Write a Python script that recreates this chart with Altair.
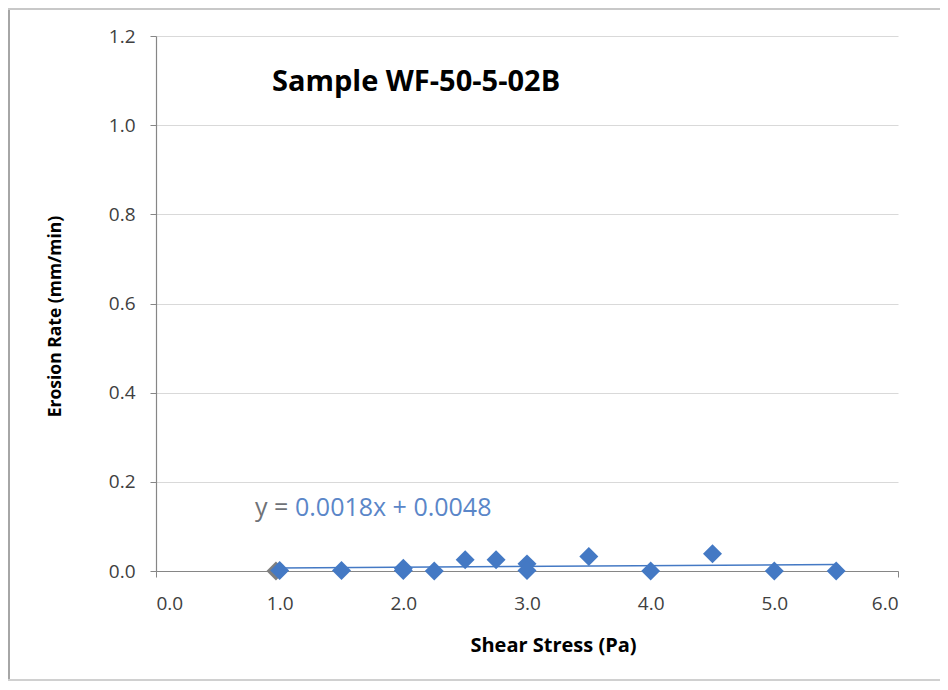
import altair as alt
import pandas as pd

# ---- data ----
shear = [1.0, 1.5, 2.0, 2.0, 2.25, 2.5, 2.75, 3.0, 3.0, 3.5, 4.0, 4.5, 5.0, 5.5]
erosion = [0.001, 0.001, 0.001, 0.006, 0.0, 0.025, 0.025, 0.016, 0.001, 0.0325, 0.0, 0.0386, 0.0, 0.0]
gray_shear = [0.97]
gray_erosion = [0.0]
trend_slope = 0.0018
trend_intercept = 0.0048
trend_x = [1.0, 5.5]
x_ticks = [0.0, 1.0, 2.0, 3.0, 4.0, 5.0, 6.0]
y_ticks = [0.0, 0.2, 0.4, 0.6, 0.8, 1.0, 1.2]
title_text = "Sample WF-50-5-02B"
x_title = "Shear Stress (Pa)"
y_title = "Erosion Rate (mm/min)"

W, H = 742, 535
PAD_L, PAD_T, PAD_R, PAD_B = 148, 28, 42, 111

pts = pd.DataFrame({"x": shear, "y": erosion})
gray = pd.DataFrame({"x": gray_shear, "y": gray_erosion})
trend = pd.DataFrame({"x": trend_x, "y": [trend_slope * v + trend_intercept for v in trend_x]})
one = pd.DataFrame({"a": [0]})

BLUE = "#4479c4"
FONT = "Open Sans"

xs = alt.Scale(domain=[0, 6], nice=False, zero=False)
ys = alt.Scale(domain=[0, 1.2], nice=False)

x_axis = alt.Axis(values=x_ticks, format=".1f", grid=False, title=x_title,
                  titleX=397, titleY=74, titleBaseline="middle", titleAlign="center",
                  titleFontSize=20, labelPadding=17, tickSize=6)
y_axis = alt.Axis(values=y_ticks, format=".1f", grid=True, title=y_title,
                  titleX=-101, titleY=280, titleAngle=270, titleBaseline="middle",
                  titleAlign="center", titleFontSize=17.5, labelPadding=15, tickSize=6)

gray_pts = alt.Chart(gray).mark_point(shape="diamond", filled=True, size=360, color="#7f7f7f", opacity=1).encode(
    x=alt.X("x:Q", scale=xs, axis=x_axis),
    y=alt.Y("y:Q", scale=ys, axis=y_axis),
)

trend_line = alt.Chart(trend).mark_line(color=BLUE, strokeWidth=1.5).encode(
    x=alt.X("x:Q", scale=xs),
    y=alt.Y("y:Q", scale=ys),
)

blue_pts = alt.Chart(pts).mark_point(shape="diamond", filled=True, size=360, color=BLUE, opacity=1).encode(
    x=alt.X("x:Q", scale=xs),
    y=alt.Y("y:Q", scale=ys),
)

title = alt.Chart(one).mark_text(text=title_text, font=FONT, fontSize=29, fontWeight="bold",
                                 align="left", baseline="middle", color="#000000").encode(
    x=alt.value(116), y=alt.value(46))

eq_y = alt.Chart(one).mark_text(text="y =", font=FONT, fontSize=25, align="left",
                                baseline="middle", color="#6f7277").encode(
    x=alt.value(99), y=alt.value(472))

eq_rest = alt.Chart(one).mark_text(text=f"{trend_slope}x + {trend_intercept}", font=FONT, fontSize=25,
                                   align="left", baseline="middle", color="#5a86c8").encode(
    x=alt.value(139), y=alt.value(472))

frame_left = alt.Chart(one).mark_rule(color="#a6a6a6", strokeWidth=2).encode(
    x=alt.value(-147), y=alt.value(-28), y2=alt.value(H + PAD_B - 1))
frame_top = alt.Chart(one).mark_rule(color="#c8c8c8", strokeWidth=2).encode(
    x=alt.value(-148), x2=alt.value(W + PAD_R), y=alt.value(-27))
frame_bottom = alt.Chart(one).mark_rule(color="#d0d0d0", strokeWidth=2).encode(
    x=alt.value(-148), x2=alt.value(W + PAD_R), y=alt.value(H + PAD_B - 2))

chart = alt.layer(
    gray_pts, trend_line, blue_pts, title, eq_y, eq_rest, frame_left, frame_top, frame_bottom
).properties(
    width=W, height=H,
    autosize=alt.AutoSizeParams(type="none"),
    padding={"left": PAD_L, "top": PAD_T, "right": PAD_R, "bottom": PAD_B},
    background="white",
).configure_view(stroke=None).configure_axis(
    labelFont=FONT, labelFontSize=19, labelColor="#404040",
    titleFont=FONT, titleFontWeight="bold", titleColor="#000000",
    domainColor="#868686", tickColor="#868686", gridColor="#d9d9d9",
    domainWidth=1.2, gridWidth=1,
)

chart.save("out.html", embed_options={"renderer": "svg", "actions": False})
